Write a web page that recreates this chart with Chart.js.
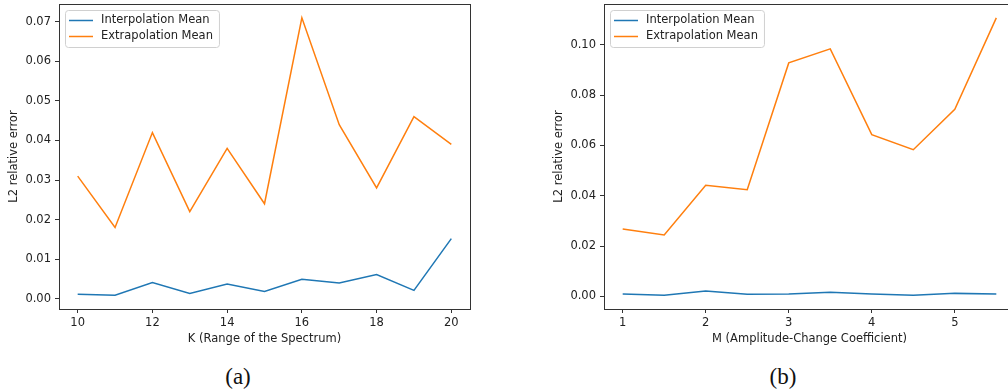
<!DOCTYPE html>
<html>
<head>
<meta charset="utf-8">
<script src="https://cdn.jsdelivr.net/npm/chart.js@4/dist/chart.umd.min.js"></script>
<style>
  body { margin: 0; width: 1008px; height: 391px; overflow: hidden; position: relative; background: #fff; }
  canvas { position: absolute; top: 0; }
  #chartA { left: 0; }
  #chartB { left: 545px; }
  .sub { position: absolute; top: 365px; width: 60px; text-align: center; font-family: "Liberation Serif", "Times New Roman", serif; font-size: 23px; line-height: 23px; color: #111; }
</style>
</head>
<body>
<canvas id="chartA" width="480" height="350"></canvas>
<canvas id="chartB" width="480" height="350"></canvas>
<div class="sub" style="left:208px">(a)</div>
<div class="sub" style="left:753px">(b)</div>
<script>
// (a) K sweep
const kValues = [10, 11, 12, 13, 14, 15, 16, 17, 18, 19, 20];
const kInterp = [0.0011, 0.0009, 0.0041, 0.0013, 0.0037, 0.0018, 0.0049, 0.0040, 0.0061, 0.0021, 0.0152];
const kExtrap = [0.031, 0.018, 0.042, 0.022, 0.038, 0.024, 0.071, 0.044, 0.028, 0.046, 0.039];
const kTicksX = [10, 12, 14, 16, 18, 20];
const kTicksY = [0, 0.01, 0.02, 0.03, 0.04, 0.05, 0.06, 0.07];

// (b) M sweep
const mValues = [1, 1.5, 2, 2.5, 3, 3.5, 4, 4.5, 5, 5.5];
const mInterp = [0.0010, 0.0005, 0.0021, 0.0009, 0.0010, 0.0016, 0.0010, 0.0005, 0.0012, 0.0010];
const mExtrap = [0.0268, 0.0244, 0.0442, 0.0424, 0.0928, 0.0984, 0.0643, 0.0583, 0.0744, 0.1107];
const mTicksX = [1, 2, 3, 4, 5];
const mTicksY = [0, 0.02, 0.04, 0.06, 0.08, 0.10];

Chart.defaults.font.family = "'DejaVu Sans', sans-serif";
Chart.defaults.font.size = 11.5;
Chart.defaults.color = '#222';

const BLUE = '#1f77b4';
const ORANGE = '#ff7f0e';

function pad(arr) {
    const lo = Math.min(...arr), hi = Math.max(...arr);
    const m = (hi - lo) * 0.05;
    return [lo - m, hi + m];
}

// box round the axes + legend inside, like matplotlib
const framePlugin = {
    id: 'frame',
    afterDatasetsDraw(chart) {
        const {ctx, chartArea: a} = chart;
        ctx.save();
        ctx.strokeStyle = '#333';
        ctx.lineWidth = 1;
        ctx.strokeRect(a.left + 0.5, a.top + 0.5, a.right - a.left, a.bottom - a.top);

        const x = a.left + 6, y = a.top + 6;
        ctx.font = "11.5px 'DejaVu Sans'";
        const w = Math.max(...chart.data.datasets.map(d => ctx.measureText(d.label).width));
        const bw = 36 + w + 6, bh = 37;
        ctx.beginPath();
        ctx.roundRect(x + 0.5, y + 0.5, bw, bh, 3);
        ctx.fillStyle = 'rgba(255,255,255,0.8)';
        ctx.fill();
        ctx.strokeStyle = '#d0d0d0';
        ctx.stroke();
        chart.data.datasets.forEach((d, i) => {
            const ly = y + 10.5 + i * 16;
            ctx.beginPath();
            ctx.moveTo(x + 4, ly);
            ctx.lineTo(x + 28, ly);
            ctx.strokeStyle = d.borderColor;
            ctx.lineWidth = 1.5;
            ctx.stroke();
            ctx.fillStyle = '#222';
            ctx.textBaseline = 'middle';
            ctx.fillText(d.label, x + 36, ly);
        });
        ctx.restore();
    }
};

function makeChart(id, xs, interp, extrap, ticksX, ticksY, xTitle) {
    const xr = pad(xs);
    const yr = pad(interp.concat(extrap));
    return new Chart(document.getElementById(id), {
        type: 'line',
        data: {
            datasets: [{
                label: 'Interpolation Mean',
                data: xs.map((x, i) => ({x: x, y: interp[i]})),
                borderColor: BLUE,
                borderWidth: 1.5,
                pointRadius: 0
            }, {
                label: 'Extrapolation Mean',
                data: xs.map((x, i) => ({x: x, y: extrap[i]})),
                borderColor: ORANGE,
                borderWidth: 1.5,
                pointRadius: 0
            }]
        },
        options: {
            responsive: false,
            animation: false,
            layout: { padding: { top: 4, right: 10, left: 0, bottom: 0 } },
            plugins: { legend: { display: false }, tooltip: { enabled: false } },
            scales: {
                x: {
                    type: 'linear',
                    min: xr[0],
                    max: xr[1],
                    afterBuildTicks: s => { s.ticks = ticksX.map(v => ({value: v})); },
                    afterFit: s => { s.height = 41; s.paddingLeft = 0; s.paddingRight = 0; },
                    grid: { drawOnChartArea: false, drawTicks: true, tickLength: 4, color: '#333' },
                    border: { display: false },
                    ticks: { maxRotation: 0, autoSkip: false, padding: 3, color: '#222' },
                    title: { display: true, text: xTitle, padding: { top: 0, bottom: 4 }, color: '#222' }
                },
                y: {
                    type: 'linear',
                    min: yr[0],
                    max: yr[1],
                    afterBuildTicks: s => { s.ticks = ticksY.map(v => ({value: v})); },
                    afterFit: s => { s.width = 59; s.paddingTop = 0; s.paddingBottom = 0; },
                    grid: { drawOnChartArea: false, drawTicks: true, tickLength: 4, color: '#333' },
                    border: { display: false },
                    ticks: { padding: 4, color: '#222', callback: v => v.toFixed(2) },
                    title: { display: true, text: 'L2 relative error', padding: { top: 7, bottom: 0 }, color: '#222' }
                }
            }
        },
        plugins: [framePlugin]
    });
}

makeChart('chartA', kValues, kInterp, kExtrap, kTicksX, kTicksY, 'K (Range of the Spectrum)');
makeChart('chartB', mValues, mInterp, mExtrap, mTicksX, mTicksY, 'M (Amplitude-Change Coefficient)');
</script>
</body>
</html>
